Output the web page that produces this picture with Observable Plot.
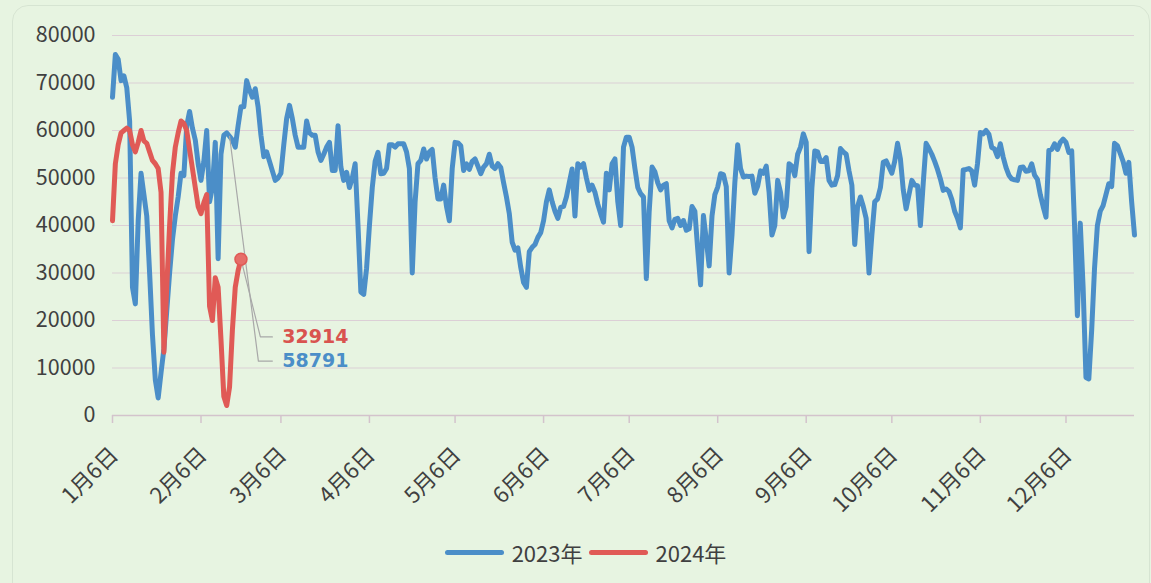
<!DOCTYPE html>
<html>
<head>
<meta charset="utf-8">
<script src="https://cdn.jsdelivr.net/npm/d3@7"></script>
<script src="https://cdn.jsdelivr.net/npm/@observablehq/plot@0.6"></script>
<style>
  html, body { margin: 0; padding: 0; background: #e7f4e1; }
  body { position: relative; width: 1151px; height: 583px; overflow: hidden; font-family: "Noto Sans CJK SC", "Noto Sans", sans-serif; }
  #frame { position: absolute; left: 12px; top: 5px; width: 1136px; height: 640px; border: 1px solid rgba(150,165,150,0.2); border-radius: 16px; pointer-events: none; }
  #chart svg { display: block; }
  #legend { display: flex; justify-content: center; align-items: center; height: 40px; margin-top: 12px; padding-left: 20px; color: #404040; font-size: 22px; }
  .item { display: flex; align-items: center; margin: 0 3px; }
  .swatch { width: 59px; height: 5px; border-radius: 3px; margin-right: 8px; }
</style>
</head>
<body>
<div id="frame"></div>
<div id="chart"></div>
<div id="legend"></div>
<script>
// x-axis categories: day offsets from 1月6日 and their labels
const tickDays = [0, 31, 59, 90, 120, 151, 181, 212, 243, 273, 304, 334];
const tickLabels = ["1月6日","2月6日","3月6日","4月6日","5月6日","6月6日","7月6日","8月6日","9月6日","10月6日","11月6日","12月6日"];
const yTicks = [0, 10000, 20000, 30000, 40000, 50000, 60000, 70000, 80000];
const seriesNames = ["2023年", "2024年"];

// daily values, starting 1月6日
const values2023 = [
  67000,76000,75000,70500,71500,69000,62000,27000,23500,41000,
  51000,46500,42000,30000,17000,7500,3700,9000,14000,22000,
  30000,37000,42000,46000,51000,50500,61000,64000,60500,58000,
  53000,49500,53500,60000,45000,48000,57500,33000,55000,59000,
  59500,58791,58000,56500,61000,65000,65000,70500,68500,67000,
  68800,65000,59000,54500,55500,53500,51500,49500,50000,51000,
  57000,62500,65300,62500,59000,56500,56500,56500,62000,59500,
  59000,59000,55500,53700,55000,56500,57500,51600,51600,61000,
  52300,49500,51200,48000,50000,53000,40000,26000,25500,31000,
  40000,48000,53500,55400,50900,51000,52000,57000,57000,56500,
  57200,57200,57200,55500,52000,30000,45000,53000,53700,56100,
  54000,55500,56000,50000,45600,45600,48500,44000,41000,52000,
  57500,57400,56800,51600,53000,51800,53500,54000,52500,50900,
  52300,53000,55000,52500,52000,53000,52200,49000,46000,42500,
  36500,34800,35300,31200,28000,27000,34500,35400,36000,37500,
  38500,41000,45000,47500,45000,43000,41500,43800,44000,46000,
  49000,51900,42000,53000,52300,53000,50000,47400,48500,47000,
  44500,42500,40700,51000,47500,53000,54000,45000,40000,56500,
  58600,58600,56500,52000,48000,46700,46000,28800,43000,52300,
  51300,49000,47500,48500,48800,41000,39500,41300,41500,40000,
  41050,39000,39300,44000,43000,35000,27500,42100,37000,31500,
  42000,46500,48100,50900,50700,48200,30000,38000,49000,57000,
  52000,50200,50400,50300,50400,46800,48300,51500,51000,52500,
  47000,38000,40000,49500,47000,41800,44000,53000,52500,50500,
  55000,56500,59300,57500,34500,48000,55700,55500,53500,53500,
  54300,49500,48500,48600,50500,56200,55500,55000,51500,48500,
  36000,44000,46000,44000,41500,30000,38000,45000,45600,48000,
  53300,53600,52300,51000,53500,57300,54000,47500,43500,46500,
  49500,48500,48400,40000,49000,57300,56200,55000,53500,51800,
  49800,47400,47700,47200,45500,43000,41500,39500,51700,51800,
  52000,51500,48500,53000,59600,59300,60000,59200,56400,56100,
  54500,57200,54400,52200,50600,49800,49600,49500,52200,52300,
  51400,51500,53000,50600,49700,46500,44000,41750,55800,56000,
  57200,56000,57500,58200,57500,55400,55700,40000,21000,40500,
  27000,8000,7700,18000,31000,40000,43000,44200,46500,48800,
  48200,57300,56800,55200,53500,51000,53300,45000,38000
];
const values2024 = [
  41000,53000,57000,59500,60000,60500,60000,57000,55500,57500,
  60000,57800,57300,55500,53700,53000,52000,47000,13300,27000,
  40000,51000,56500,59500,62000,61500,60000,56000,52000,48000,
  44000,42500,44800,46500,23000,20000,29000,27000,16000,4000,
  2100,6000,18000,27000,30500,32914
];
const colors = ["#4b8ec8", "#e05a56"];

const rows2023 = values2023.map((v, i) => ({day: i, value: v}));
const rows2024 = values2024.map((v, i) => ({day: i, value: v}));
const last2024 = rows2024[rows2024.length - 1];
const mark2023 = rows2023[41];

// annotation layout (data units)
const labelDay = 59.5, endDay = 56.0;
const bend2024 = 51.8, bend2023 = 51.1;
const labelY2024 = 16550, labelY2023 = 11450;
const leader2024 = [last2024, {day: bend2024, value: labelY2024}, {day: endDay, value: labelY2024}];
const leader2023 = [mark2023, {day: bend2023, value: labelY2023}, {day: endDay, value: labelY2023}];
const labelFont = "'DejaVu Sans', sans-serif";

const chart = Plot.plot({
  width: 1151,
  height: 520,
  marginLeft: 112,
  marginRight: 17,
  marginTop: 35,
  marginBottom: 105,
  style: {background: "transparent", fontFamily: "'Noto Sans CJK SC', 'Noto Sans', sans-serif", color: "#404040"},
  x: {domain: [0, 358]},
  y: {domain: [0, 80000]},
  marks: [
    Plot.gridY(yTicks, {stroke: "#dccfd6", strokeOpacity: 1, strokeWidth: 1.2}),
    Plot.axisY(yTicks, {tickSize: 0, tickPadding: 17, fontSize: 21.5, fill: "#404040", tickFormat: d => String(d), label: null}),
    // tick marks only
    Plot.axisX(tickDays, {tickSize: 8, stroke: "#d3c3cc", strokeWidth: 1.5, tickFormat: () => "", label: null}),
    // rotated labels only
    Plot.axisX(tickDays, {tickSize: 0, tickPadding: 2, dy: 34, dx: 2, tickRotate: -45, fontSize: 22, fill: "#404040",
      tickFormat: d => tickLabels[tickDays.indexOf(d)], label: null}),
    Plot.ruleY([0], {stroke: "#d3c3cc", strokeWidth: 1.5}),
    Plot.line(rows2023, {x: "day", y: "value", stroke: colors[0], strokeWidth: 5, strokeLinejoin: "round", strokeLinecap: "round"}),
    Plot.line(rows2024, {x: "day", y: "value", stroke: colors[1], strokeWidth: 5, strokeLinejoin: "round", strokeLinecap: "round"}),
    Plot.line(leader2023, {x: "day", y: "value", stroke: "#a8a8a8", strokeWidth: 1.2}),
    Plot.line(leader2024, {x: "day", y: "value", stroke: "#a8a8a8", strokeWidth: 1.2}),
    Plot.dot([last2024], {x: "day", y: "value", r: 6, fill: "#e66e69", stroke: colors[1], strokeWidth: 1.5}),
    Plot.text([{day: labelDay, value: labelY2024, t: String(last2024.value)}], {x: "day", y: "value", text: "t", textAnchor: "start", fontSize: 19, fontWeight: "bold", fontFamily: labelFont, fill: "#d9534f"}),
    Plot.text([{day: labelDay, value: labelY2023, t: String(mark2023.value)}], {x: "day", y: "value", text: "t", textAnchor: "start", fontSize: 19, fontWeight: "bold", fontFamily: labelFont, fill: colors[0]})
  ]
});
document.getElementById("chart").appendChild(chart);

const legend = document.getElementById("legend");
seriesNames.forEach((name, i) => {
  const item = document.createElement("div");
  item.className = "item";
  const sw = document.createElement("div");
  sw.className = "swatch";
  sw.style.background = colors[i];
  const label = document.createElement("span");
  label.textContent = name;
  item.appendChild(sw);
  item.appendChild(label);
  legend.appendChild(item);
});
</script>
</body>
</html>
